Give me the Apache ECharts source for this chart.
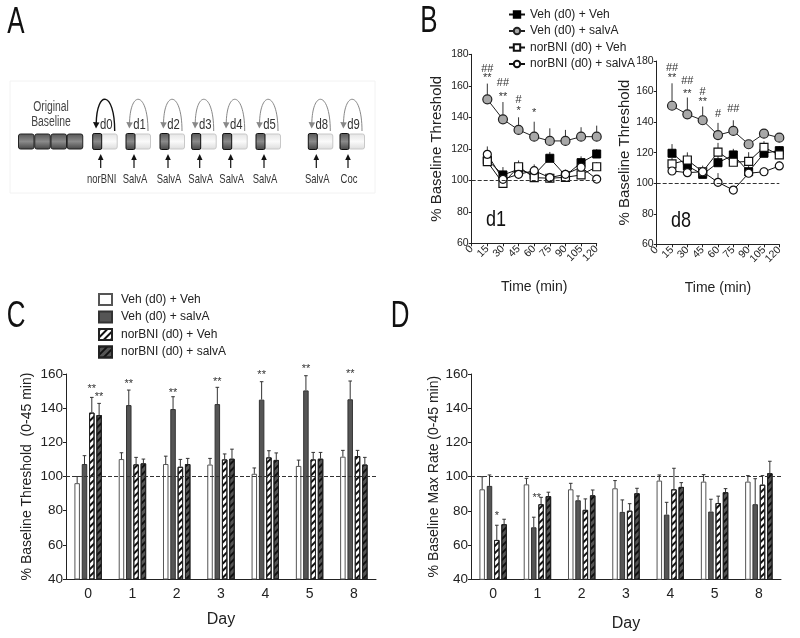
<!DOCTYPE html>
<html><head><meta charset="utf-8">
<script src="https://cdn.jsdelivr.net/npm/echarts@6/dist/echarts.min.js"></script>
<style>html,body{margin:0;padding:0;background:#fff}#c{width:800px;height:638px}</style>
</head><body><div id="c"></div>
<script>
// ---------------- DATA ----------------
const groupNames = ['Veh (d0) + Veh','Veh (d0) + salvA','norBNI (d0) + Veh','norBNI (d0) + salvA'];

// Panel B (time course, % baseline threshold)
const times = [15,30,45,60,75,90,105,120];
const d1VehVeh      = [113,103.4,107,103.5,114,103,111.2,116.7];
const d1VehVehErr   = [3,5,4,5,4,3,4,3];
const d1VehSalvA    = [151.4,138.7,132,127.7,125,125,127.7,127.7];
const d1VehSalvAErr = [10,11,8,9.5,8,7,6,7];
const d1NorVeh      = [111.8,98.1,108.6,101.7,101.3,101.9,103.4,108.6];
const d1NorVehErr   = [3,4,4,3,3,3,3,3];
const d1NorSalvA    = [116.5,100.6,103.8,106.1,101.7,103.8,108.3,100.8];
const d1NorSalvAErr = [5,3,3,4,3,3,4,2];

const d8VehVeh      = [119.6,111.3,105.8,113.4,118.5,107.5,119.6,121.3];
const d8VehVehErr   = [6,5,4,5,4,4,4,3];
const d8VehSalvA    = [150.7,145.1,141.2,131.5,134.2,125.5,132.4,129.8];
const d8VehSalvAErr = [14.7,11,9,8,7,2,3,3];
const d8NorVeh      = [112.6,115.2,107.5,120.4,113.7,114.3,123.5,118.5];
const d8NorVehErr   = [4,5,4,6,4,6,4,4];
const d8NorSalvA    = [108,106.9,107.5,100.6,95.5,106.5,107.5,111.3];
const d8NorSalvAErr = [3,3,3,6,2,3,3,3];

const d1SigTime = [15,15,30,30,45,45,60];
const d1SigY    = [171,164.8,161.6,153,151,144,143];
const d1SigText = ['##','**','##','**','#','*','*'];
const d8SigTime = [15,15,30,30,45,45,60,75];
const d8SigY    = [175.2,168.7,166.9,158.4,159.9,153.4,145.3,148.6];
const d8SigText = ['##','**','##','**','#','**','#','##'];

// Panels C and D (day bars)
const days = ['0','1','2','3','4','5','8'];
const cVehVeh      = [96.1,110.2,107.3,107,101.6,106.2,111.6];
const cVehVehErr   = [3.9,3.7,4.6,3.6,3.4,3.4,3.7];
const cVehSalvA    = [107.3,141.8,139.5,142.4,145,150.4,145.2];
const cVehSalvAErr = [4.9,8.8,7.2,9.8,10.5,8.6,10.7];
const cNorVeh      = [137.4,107.1,105.7,110,111.2,110,112];
const cNorVehErr   = [8.9,4.1,4.3,3.2,3.9,4.1,3.3];
const cNorSalvA    = [136,107.7,107.3,110.4,109.7,110.4,107];
const cNorSalvAErr = [6.8,2.5,3.3,5.6,4.1,3.7,4.2];
const cSigDay    = [0,0,1,2,3,4,5,6];
const cSigSeries = [2,3,1,1,1,1,1,1];
const cSigY      = [151,146.7,154.1,149,155.5,159.2,162.7,160];
const cSigText   = ['**','**','**','**','**','**','**','**'];

const dVehVeh      = [92.6,95.5,92.6,93.2,97.7,97.1,97.1];
const dVehVehErr   = [7.4,3.5,3.5,4.5,3.3,4.1,3.5];
const dVehSalvA    = [94.6,70.4,86.2,79.4,77.8,79.6,83.9];
const dVehSalvAErr = [6.4,5.9,2.5,7,7.2,7.2,14.9];
const dNorVeh      = [63,83.9,80.6,80.1,92.6,84.6,95.3];
const dNorVehErr   = [8.6,4,6.4,4.1,12.3,4,5.3];
const dNorSalvA    = [72.2,88.6,89.1,90.3,94,90.9,102];
const dNorSalvAErr = [2.9,2.3,3.1,2.9,2.5,2.1,7];
const dSigDay    = [0,1];
const dSigSeries = [2,1.4];
const dSigY      = [77,87.7];
const dSigText   = ['*','**'];

// Panel A schematic text
const aDayLabels  = ['d0','d1','d2','d3','d4','d5','d8','d9'];
const aDrugLabels = ['norBNI','SalvA','SalvA','SalvA','SalvA','SalvA','SalvA','Coc'];

// ---------------- STYLE / LAYOUT ----------------
const FONT = "'Liberation Sans',Arial,sans-serif";
const INK = '#222';
const BAR_W = 5.5, BAR_GAP = 0.33;

const chart = echarts.init(document.getElementById('c'), null, {renderer:'canvas'});

function txt(x, y, text, size, color, sx){
  return {type:'text', x:x, y:y, silent:true, scaleX:sx||1,
    style:{text:text, fontSize:size, fontFamily:FONT, fill:color||INK,
      align:'center', verticalAlign:'middle', textAlign:'center', textVerticalAlign:'middle'}};
}

function buildPanelA(){
  const els = [];
  els.push({type:'rect', silent:true, shape:{x:10,y:81,width:365,height:112}, style:{fill:'none', stroke:'#f2f2f2', lineWidth:1}});
  els.push(txt(51,107,'Original',14,'#444',0.74));
  els.push(txt(51,122,'Baseline',14,'#444',0.74));
  const darkGrad = {type:'linear',x:0,y:0,x2:0,y2:1,colorStops:[{offset:0,color:'#555'},{offset:0.5,color:'#8a8a8a'},{offset:1,color:'#444'}]};
  const lightGrad = {type:'linear',x:0,y:0,x2:0,y2:1,colorStops:[{offset:0,color:'#e4e4e4'},{offset:0.5,color:'#fafafa'},{offset:1,color:'#dcdcdc'}]};
  for (let i=0;i<4;i++){
    els.push({type:'rect', silent:true, shape:{x:18.5+i*16.25, y:134, width:15.5, height:15, r:2}, style:{fill:darkGrad, stroke:'#222', lineWidth:1}});
  }
  const blockX = [92.7,126,160,191.7,222.7,256,308.3,340];
  blockX.forEach(function(x, i){
    els.push({type:'rect', silent:true, shape:{x:x+8.5, y:134, width:16, height:15, r:2}, style:{fill:lightGrad, stroke:'#c8c8c8', lineWidth:1}});
    els.push({type:'rect', silent:true, shape:{x:x, y:133.5, width:9, height:16, r:1.5}, style:{fill:darkGrad, stroke:'#111', lineWidth:1}});
    const col = i===0 ? '#111' : '#888';
    els.push({type:'bezierCurve', silent:true, shape:{x1:x+22, y1:131, cpx1:x+22, cpy1:91, cpx2:x+4, cpy2:89, x2:x+3.5, y2:124},
      style:{stroke:col, lineWidth:i===0?1.4:1, fill:null}});
    els.push({type:'polygon', silent:true, shape:{points:[[x+3.3,128.5],[x+0.3,122],[x+6.8,122.5]]}, style:{fill:col}});
    els.push(txt(x+13.5,125,aDayLabels[i],14.5,'#333',0.78));
    els.push({type:'line', silent:true, shape:{x1:x+8, y1:168, x2:x+8, y2:157}, style:{stroke:'#111', lineWidth:1.2}});
    els.push({type:'polygon', silent:true, shape:{points:[[x+8,154],[x+5.2,160],[x+10.8,160]]}, style:{fill:'#111'}});
    els.push(txt(x+9,179,aDrugLabels[i],13.5,'#333',0.7));
  });
  return els;
}

const graphics = buildPanelA().concat([
  txt(16,23,'A',36,'#111',0.72),
  txt(429,22,'B',36,'#111',0.72),
  txt(16,317,'C',36,'#111',0.72),
  txt(400,317,'D',36,'#111',0.72),
  txt(496,220,'d1',22,'#111',0.82),
  txt(681,221,'d8',22,'#111',0.82)
]);

const grids = [
  {left:471.7, top:54.3, width:125, height:189},
  {left:656.7, top:61, width:122.6, height:183.3},
  {left:66, top:374, width:310, height:205},
  {left:471, top:374, width:310, height:205.3}
];

const axisLineS = {show:true, lineStyle:{color:INK, width:1}};
function xB(gi){
  return {type:'value', gridIndex:gi, min:0, max:120, interval:15,
    axisLine:axisLineS, axisTick:{show:true, length:3, lineStyle:{color:INK}},
    axisLabel:{rotate:45, fontSize:10.5, fontFamily:FONT, color:INK, margin:4},
    splitLine:{show:false},
    name:'Time (min)', nameLocation:'middle', nameGap:37,
    nameTextStyle:{fontSize:14, fontFamily:FONT, color:INK}};
}
function yB(gi, gap){
  return {type:'value', gridIndex:gi, min:60, max:180, interval:20,
    axisLine:axisLineS, axisTick:{show:true, length:3, lineStyle:{color:INK}},
    axisLabel:{fontSize:10.5, fontFamily:FONT, color:INK, margin:3},
    splitLine:{show:false},
    name:'% Baseline Threshold', nameLocation:'middle', nameGap:gap,
    nameTextStyle:{fontSize:15, fontFamily:FONT, color:INK}};
}
function xC(gi, gap){
  return {type:'category', gridIndex:gi, data:days,
    axisLine:axisLineS, axisTick:{show:false},
    axisLabel:{fontSize:14, fontFamily:FONT, color:INK, margin:8},
    name:'Day', nameLocation:'middle', nameGap:gap,
    nameTextStyle:{fontSize:16, fontFamily:FONT, color:INK}};
}
function yC(gi, name, gap){
  return {type:'value', gridIndex:gi, min:40, max:160, interval:20,
    axisLine:axisLineS, axisTick:{show:true, length:3, lineStyle:{color:INK}},
    axisLabel:{fontSize:13.5, fontFamily:FONT, color:INK, margin:3},
    splitLine:{show:false},
    name:name, nameLocation:'middle', nameGap:gap,
    nameTextStyle:{fontSize:14, fontFamily:FONT, color:INK}};
}

const dashed100 = {silent:true, symbol:'none', label:{show:false},
  lineStyle:{type:'dashed', color:'#333', width:1}, data:[{yAxis:100}]};

// Panel B series
const lineStyles = [
  {symbol:'rect', symbolSize:8, itemStyle:{color:'#000', borderColor:'#000', borderWidth:1}, lineStyle:{color:'#111', width:1}},
  {symbol:'circle', symbolSize:9, itemStyle:{color:'#a8a8a8', borderColor:'#222', borderWidth:1.2}, lineStyle:{color:'#222', width:1}},
  {symbol:'rect', symbolSize:8, itemStyle:{color:'#fff', borderColor:'#111', borderWidth:1.2}, lineStyle:{color:'#111', width:1}},
  {symbol:'circle', symbolSize:8, itemStyle:{color:'#fff', borderColor:'#111', borderWidth:1.2}, lineStyle:{color:'#111', width:1}}
];
function pts(vals){ return times.map(function(t,i){ return [t, vals[i]]; }); }
function errPts(vals, errs){ return times.map(function(t,i){ return [t, vals[i], errs[i]]; }); }

function errLineB(params, api){
  const p0 = api.coord([api.value(0), api.value(1)]);
  const p1 = api.coord([api.value(0), api.value(1)+api.value(2)]);
  return {type:'line', shape:{x1:p0[0], y1:p0[1], x2:p1[0], y2:p1[1]}, style:{stroke:'#333', lineWidth:1}};
}
function sigRenderer(texts, seriesIdx){
  return function(params, api){
    let off = 0;
    if (seriesIdx) off = (seriesIdx[params.dataIndex]-1.5)*BAR_W*(1+BAR_GAP);
    const p = api.coord([api.value(0), api.value(1)]);
    return {type:'text', x:p[0]+off, y:p[1],
      style:{text:texts[params.dataIndex], fontSize:11, fontFamily:FONT, fill:'#333',
        align:'center', verticalAlign:'middle', textAlign:'center', textVerticalAlign:'middle'}};
  };
}

const series = [];
function addB(gi, sets, sigT, sigY, sigText){
  const order = [0,2,3,1];
  sets.forEach(function(s, k){
    series.push({type:'custom', xAxisIndex:gi, yAxisIndex:gi, silent:true, z:1,
      renderItem:errLineB, data:errPts(s[0], s[1])});
  });
  order.forEach(function(k){
    const st = lineStyles[k];
    const ser = {type:'line', name:'B:'+groupNames[k], xAxisIndex:gi, yAxisIndex:gi,
      data:pts(sets[k][0]), symbol:st.symbol, symbolSize:st.symbolSize,
      itemStyle:st.itemStyle, lineStyle:st.lineStyle, z:3, animation:false};
    if (k===0) ser.markLine = dashed100;
    series.push(ser);
  });
  series.push({type:'custom', xAxisIndex:gi, yAxisIndex:gi, silent:true, z:4,
    renderItem:sigRenderer(sigText), data:sigT.map(function(t,i){return [t, sigY[i]];})});
}
addB(0, [[d1VehVeh,d1VehVehErr],[d1VehSalvA,d1VehSalvAErr],[d1NorVeh,d1NorVehErr],[d1NorSalvA,d1NorSalvAErr]], d1SigTime, d1SigY, d1SigText);
addB(1, [[d8VehVeh,d8VehVehErr],[d8VehSalvA,d8VehSalvAErr],[d8NorVeh,d8NorVehErr],[d8NorSalvA,d8NorSalvAErr]], d8SigTime, d8SigY, d8SigText);

// Panels C, D
const stripe = {symbol:'rect', symbolSize:1, dashArrayX:[1,0], dashArrayY:[1.3,2.2], rotation:-Math.PI/4, color:'#111'};
const barStyles = [
  {color:'#fff', borderColor:'#555', borderWidth:1},
  {color:'#555', borderColor:'#333', borderWidth:1},
  {color:'#fff', borderColor:'#222', borderWidth:1, decal:stripe},
  {color:'#555', borderColor:'#222', borderWidth:1, decal:stripe}
];
function errBar(s){
  return function(params, api){
    const off = (s-1.5)*BAR_W*(1+BAR_GAP);
    const p0 = api.coord([api.value(0), api.value(1)]);
    const p1 = api.coord([api.value(0), api.value(1)+api.value(2)]);
    const x = p0[0]+off;
    return {type:'group', children:[
      {type:'line', shape:{x1:x, y1:p0[1], x2:x, y2:p1[1]}, style:{stroke:'#333', lineWidth:1}},
      {type:'line', shape:{x1:x-1.8, y1:p1[1], x2:x+1.8, y2:p1[1]}, style:{stroke:'#333', lineWidth:1}}
    ]};
  };
}
function addBars(gi, sets, sigDay, sigSer, sigY, sigText){
  sets.forEach(function(s, k){
    const ser = {type:'bar', name:'C:'+groupNames[k], xAxisIndex:gi, yAxisIndex:gi,
      data:s[0], barWidth:BAR_W, barGap:(BAR_GAP*100)+'%', itemStyle:barStyles[k], z:2, animation:false};
    if (k===0) ser.markLine = dashed100;
    series.push(ser);
  });
  sets.forEach(function(s, k){
    series.push({type:'custom', xAxisIndex:gi, yAxisIndex:gi, silent:true, z:3,
      renderItem:errBar(k), data:s[0].map(function(v,i){return [i, v, s[1][i]];})});
  });
  series.push({type:'custom', xAxisIndex:gi, yAxisIndex:gi, silent:true, z:4,
    renderItem:sigRenderer(sigText, sigSer), data:sigDay.map(function(d,i){return [d, sigY[i]];})});
}
addBars(2, [[cVehVeh,cVehVehErr],[cVehSalvA,cVehSalvAErr],[cNorVeh,cNorVehErr],[cNorSalvA,cNorSalvAErr]], cSigDay, cSigSeries, cSigY, cSigText);
addBars(3, [[dVehVeh,dVehVehErr],[dVehSalvA,dVehSalvAErr],[dNorVeh,dNorVehErr],[dNorSalvA,dNorSalvAErr]], dSigDay, dSigSeries, dSigY, dSigText);

const option = {
  animation:false,
  backgroundColor:'#fff',
  textStyle:{fontFamily:FONT},
  grid:grids,
  xAxis:[xB(0), xB(1), xC(2,33), xC(3,36)],
  yAxis:[yB(0,27), yB(1,24), yC(2,'% Baseline Threshold  (0-45 min)',32), yC(3,'% Baseline Max Rate (0-45 min)',28)],
  legend:[
    {orient:'vertical', left:503, top:3, itemWidth:16, itemHeight:8, itemGap:3.5,
     data:groupNames.map(function(n){return 'B:'+n;}),
     formatter:function(n){return n.slice(2);},
     textStyle:{fontSize:12, fontFamily:FONT, color:INK, lineHeight:13}},
    {orient:'vertical', left:93, top:288, itemWidth:13, itemHeight:11, itemGap:4.5, icon:'rect',
     data:groupNames.map(function(n){return 'C:'+n;}),
     formatter:function(n){return n.slice(2);},
     textStyle:{fontSize:12, fontFamily:FONT, color:INK, lineHeight:13, padding:[0,0,0,4]}}
  ],
  graphic:graphics,
  series:series
};
chart.setOption(option);
</script></body></html>
